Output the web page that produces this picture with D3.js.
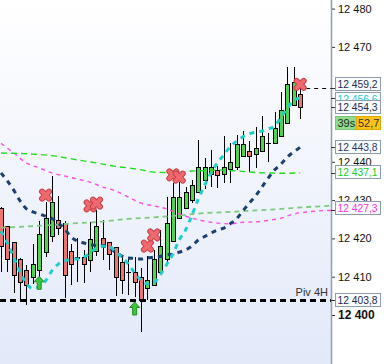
<!DOCTYPE html>
<html>
<head>
<meta charset="utf-8">
<script src="https://cdn.jsdelivr.net/npm/d3@7"></script>
<style>
  body { margin: 0; background: #fff; }
  svg { display: block; font-family: "Liberation Sans", Arial, sans-serif; }
</style>
</head>
<body>
<div id="chart"></div>
<script>
// candles, one per bar (index 0 = leftmost)
const opens  = [12427.9, 12423.0, 12418.8, 12414.6, 12411.7, 12409.7, 12411.5, 12416.2, 12420.4, 12424.8,
                12423.8, 12416.7, 12414.9, 12415.1, 12414.1, 12416.7, 12420.1, 12418.8, 12417.5, 12413.6,
                12411.2, 12411.2, 12409.9, 12406.8, 12407.8, 12411.2, 12414.6, 12419.1, 12425.1, 12427.9,
                12430.0, 12431.9, 12435.2, 12436.8, 12437.6, 12436.8, 12437.9, 12438.6, 12441.3, 12442.8,
                12442.0, 12442.8, 12444.9, 12444.9, 12446.5, 12450.1, 12454.8, 12457.7];
const highs  = [12428.2, 12423.2, 12419.0, 12414.8, 12413.1, 12418.5, 12424.5, 12429.5, 12436.3, 12431.1,
                12424.5, 12418.5, 12420.1, 12417.0, 12424.3, 12427.4, 12424.8, 12419.1, 12417.7, 12415.7,
                12415.1, 12415.1, 12412.3, 12415.4, 12417.0, 12422.2, 12430.8, 12434.5, 12434.7, 12433.4,
                12435.2, 12445.7, 12441.0, 12443.1, 12438.9, 12446.7, 12444.9, 12447.0, 12448.0, 12445.4,
                12449.1, 12452.0, 12447.5, 12453.0, 12458.2, 12464.8, 12464.8, 12459.5];
const lows   = [12411.2, 12411.2, 12405.7, 12403.7, 12402.6, 12408.1, 12409.4, 12415.1, 12419.1, 12420.9,
                12404.4, 12407.8, 12408.6, 12408.4, 12411.2, 12415.4, 12414.4, 12411.7, 12405.0, 12405.5,
                12405.2, 12404.7, 12395.6, 12403.9, 12407.7, 12411.1, 12413.6, 12419.0, 12425.0, 12427.8,
                12429.2, 12431.8, 12432.9, 12433.4, 12433.2, 12434.5, 12434.5, 12437.9, 12441.2, 12437.3,
                12438.4, 12442.7, 12439.9, 12444.8, 12446.4, 12450.0, 12454.7, 12451.2];
const closes = [12417.8, 12414.6, 12410.2, 12408.6, 12407.6, 12413.1, 12420.9, 12425.1, 12429.5, 12422.5,
                12410.2, 12413.3, 12414.9, 12413.3, 12419.8, 12423.0, 12418.3, 12415.7, 12409.9, 12409.1,
                12411.2, 12408.6, 12403.7, 12408.9, 12414.6, 12417.8, 12424.0, 12430.8, 12430.8, 12431.9,
                12433.9, 12438.4, 12438.4, 12438.4, 12436.3, 12438.6, 12439.7, 12444.4, 12444.6, 12441.5,
                12443.6, 12446.7, 12444.9, 12448.6, 12453.5, 12460.1, 12460.6, 12454.3];

// moving averages, one value per bar
const navyMA = [12437.1, 12435.0, 12432.6, 12429.8, 12427.7, 12426.9, 12426.4, 12425.8, 12425.2, 12424.0,
                12422.5, 12420.4, 12419.3, 12418.8, 12418.4, 12418.1, 12418.0, 12417.5, 12416.4, 12415.4,
                12414.9, 12414.8, 12414.6, 12414.9, 12415.1, 12415.3, 12415.7, 12415.9, 12416.4, 12417.0,
                12418.0, 12419.6, 12420.5, 12421.4, 12422.2, 12422.7, 12423.8, 12425.1, 12427.2, 12429.2,
                12431.1, 12433.4, 12435.8, 12437.9, 12439.4, 12441.3, 12442.6, 12443.8];
const cyanMA = [12421.9, 12418.8, 12415.1, 12411.2, 12408.1, 12407.0, 12407.3, 12408.9, 12411.5, 12413.3,
                12414.1, 12414.5, 12414.6, 12415.1, 12416.2, 12417.5, 12418.0, 12418.0, 12416.4, 12415.1,
                12413.3, 12411.0, 12409.1, 12408.1, 12408.4, 12410.4, 12413.1, 12415.9, 12419.6, 12422.2,
                12426.1, 12430.3, 12433.9, 12437.1, 12439.7, 12441.8, 12443.9, 12445.4, 12446.5, 12447.3,
                12447.8, 12448.0, 12448.6, 12449.3, 12451.7, 12454.0, 12456.1, 12456.6];

// slower averages, read at [bar index, value]
const greenMA = [[0, 12442.3], [5, 12442.0], [8, 12441.6], [10, 12441.1], [12, 12440.5], [15, 12439.7],
                 [18, 12438.8], [20, 12438.4], [22, 12437.9], [24, 12437.3], [26, 12437.2], [28, 12437.2],
                 [30, 12437.6], [32, 12437.7], [34, 12437.9], [36, 12437.7], [38, 12437.5], [40, 12437.2],
                 [42, 12437.1], [44, 12437.0], [47, 12437.1]];
const magentaMA = [[0, 12444.8], [2, 12442.3], [4, 12439.7], [6, 12438.4], [8, 12437.1], [10, 12436.3],
                   [12, 12435.5], [14, 12434.7], [16, 12433.4], [18, 12432.4], [20, 12430.8], [22, 12429.2],
                   [24, 12428.5], [26, 12427.7], [28, 12426.4], [30, 12425.3], [32, 12424.5], [34, 12424.0],
                   [36, 12423.8], [38, 12424.2], [40, 12424.3], [42, 12424.7], [44, 12425.3], [46, 12426.4],
                   [48, 12426.9], [50, 12427.2], [52, 12427.3]];
const lightGreenMA = [[0, 12422.8], [4, 12423.1], [8, 12423.5], [12, 12424.0], [16, 12424.4], [20, 12425.1],
                      [24, 12425.5], [28, 12426.0], [32, 12426.6], [36, 12426.9], [40, 12427.3], [44, 12427.7],
                      [48, 12428.2], [52, 12428.5]];

// signals
const crossBars = [7, 14, 15, 23, 24, 27, 28, 47];
const crossPrices = [12431.3, 12428.5, 12429.2, 12418.0, 12420.9, 12436.6, 12436.0, 12460.2];
const arrowBars = [6, 21];
const arrowPrices = [12408.4, 12401.7];

const pivotPrice = 12403.8;
const pivotLabel = "Piv 4H";
const lastMarkPrice = 12459.2;

// 12450 and 12460 sit under the value boxes, so only these are visible
const yTicks = [12400, 12410, 12420, 12430, 12440, 12470, 12480];

// price boxes on the axis (drawn in this order, later ones on top)
const boxPrices = [12459.2, 12456.6, 12454.3, 12443.8, 12437.1, 12427.3, 12403.8];
const boxColors = ["#1c2a48", "#22c8c8", "#1c2a48", "#1e3a68", "#22cc22", "#ff33dd", "#1c2a48"];
const boxShift = [-4, 1, 0, 0, -1, -2, 0]; // pushed apart so they do not stack exactly
const timerText = "39s";
const spreadText = "52,7";

const W = 384, H = 364, plotW = 331;

const svg = d3.select("#chart").append("svg")
  .attr("width", W).attr("height", H);

const defs = svg.append("defs");
const grad = defs.append("linearGradient").attr("id", "bg")
  .attr("x1", 0).attr("y1", 0).attr("x2", 0).attr("y2", 1);
grad.append("stop").attr("offset", "0%").attr("stop-color", "#ffffff");
grad.append("stop").attr("offset", "100%").attr("stop-color", "#e2e9f9");
defs.append("clipPath").attr("id", "plot")
  .append("rect").attr("width", plotW).attr("height", H);

svg.append("rect").attr("width", W).attr("height", H).attr("fill", "#fff");
svg.append("rect").attr("width", plotW).attr("height", H).attr("fill", "url(#bg)");

const x = d3.scaleLinear().domain([0, 52]).range([1, 332]);
const y = d3.scaleLinear().domain([12400, 12480]).range([315, 8.6]);

const plot = svg.append("g").attr("clip-path", "url(#plot)");

// candles
const bars = d3.range(opens.length).map(i => ({
  i, o: opens[i], h: highs[i], l: lows[i], c: closes[i]
}));
const cg = plot.append("g").attr("shape-rendering", "crispEdges");
cg.selectAll(".wick").data(bars).enter().append("line")
  .attr("x1", d => Math.round(x(d.i)) + 0.5).attr("x2", d => Math.round(x(d.i)) + 0.5)
  .attr("y1", d => y(d.h)).attr("y2", d => y(d.l))
  .attr("stroke", "#000").attr("stroke-width", 1);
cg.selectAll(".body").data(bars).enter().append("rect")
  .attr("x", d => Math.round(x(d.i)) - 1.5)
  .attr("width", 4)
  .attr("y", d => y(Math.max(d.o, d.c)))
  .attr("height", d => Math.max(0.01, Math.abs(y(d.o) - y(d.c))))
  .attr("fill", d => d.c > d.o ? "#4cd64c" : (d.c < d.o ? "#ef7471" : "none"))
  .attr("stroke", "#000").attr("stroke-width", 1);
// doji crosses
cg.selectAll(".doji").data(bars.filter(d => d.o === d.c)).enter().append("line")
  .attr("x1", d => Math.round(x(d.i)) - 2).attr("x2", d => Math.round(x(d.i)) + 3)
  .attr("y1", d => Math.round(y(d.o)) + 0.5).attr("y2", d => Math.round(y(d.o)) + 0.5)
  .attr("stroke", "#000");

// averages
const lineIdx = d3.line().x((d, i) => x(i)).y(d => y(d)).curve(d3.curveMonotoneX);
const linePair = d3.line().x(d => x(d[0])).y(d => y(d[1])).curve(d3.curveMonotoneX);

plot.append("path").datum(lightGreenMA).attr("d", linePair)
  .attr("fill", "none").attr("stroke", "#7ccb7c").attr("stroke-width", 1.8)
  .attr("stroke-dasharray", "5,4");
plot.append("path").datum(magentaMA).attr("d", linePair)
  .attr("fill", "none").attr("stroke", "#ff4be8").attr("stroke-width", 1.4)
  .attr("stroke-dasharray", "4,4");
plot.append("path").datum(greenMA).attr("d", linePair)
  .attr("fill", "none").attr("stroke", "#1fdc1f").attr("stroke-width", 1.4)
  .attr("stroke-dasharray", "6,4");
plot.append("path").datum(navyMA).attr("d", lineIdx)
  .attr("fill", "none").attr("stroke", "#1b4070").attr("stroke-width", 3)
  .attr("stroke-dasharray", "5,5");
plot.append("path").datum(cyanMA).attr("d", lineIdx)
  .attr("fill", "none").attr("stroke", "#1fcfcf").attr("stroke-width", 3)
  .attr("stroke-dasharray", "5,5");

// pivot line + last mark line
plot.append("line")
  .attr("x1", 0).attr("x2", plotW)
  .attr("y1", Math.round(y(pivotPrice)) + 0.5).attr("y2", Math.round(y(pivotPrice)) + 0.5)
  .attr("stroke", "#000").attr("stroke-width", 3).attr("stroke-dasharray", "6,4");
plot.append("text")
  .attr("x", 328).attr("y", y(pivotPrice) - 4)
  .attr("text-anchor", "end").attr("font-size", 11).attr("fill", "#333")
  .text(pivotLabel);
plot.append("line")
  .attr("x1", x(opens.length - 1) - 2).attr("x2", plotW)
  .attr("y1", Math.round(y(lastMarkPrice)) + 0.5).attr("y2", Math.round(y(lastMarkPrice)) + 0.5)
  .attr("stroke", "#000").attr("stroke-width", 1).attr("stroke-dasharray", "4,4");

// red crosses
const crosses = plot.selectAll(".cross").data(crossBars.map((b, k) => ({ b, p: crossPrices[k] })))
  .enter().append("g")
  .attr("transform", d => `translate(${x(d.b)},${y(d.p)})`);
const xPath = "M-3.5,-3.5L3.5,3.5M3.5,-3.5L-3.5,3.5";
crosses.append("path").attr("d", xPath)
  .attr("stroke", "#c8404a").attr("stroke-width", 6).attr("stroke-linecap", "round");
crosses.append("path").attr("d", xPath)
  .attr("stroke", "#ef6a6e").attr("stroke-width", 4).attr("stroke-linecap", "round");

// green arrows
const arrowPath = "M0,-6.5L5,-1L2,-1L2,6.5L-2,6.5L-2,-1L-5,-1Z";
plot.selectAll(".arrow").data(arrowBars.map((b, k) => ({ b, p: arrowPrices[k] })))
  .enter().append("path")
  .attr("transform", d => `translate(${x(d.b)},${y(d.p)})`)
  .attr("d", arrowPath)
  .attr("fill", "#3cc83c").attr("stroke", "#1f8f1f").attr("stroke-width", 1);

// price axis
const fmt = d3.formatLocale({ decimal: ",", thousands: "\u00a0", grouping: [3], currency: ["", ""] });
const tickFmt = fmt.format(",");
const valFmt = fmt.format(",.1f");

const axis = svg.append("g").attr("transform", `translate(${plotW},0)`);
axis.call(d3.axisRight(y).tickValues(yTicks).tickSize(4).tickPadding(3).tickFormat(tickFmt));
axis.select(".domain").remove();
axis.selectAll(".tick line").attr("stroke", "#333");
axis.selectAll(".tick text")
  .attr("font-family", "'Liberation Sans', Arial, sans-serif")
  .attr("fill", "#111")
  .attr("font-weight", d => d === 12400 ? "bold" : null)
  .attr("font-size", d => d === 12400 ? 12 : 11);

svg.append("line").attr("x1", plotW + 0.5).attr("x2", plotW + 0.5)
  .attr("y1", 0).attr("y2", H).attr("stroke", "#8d9fb0").attr("stroke-width", 1.5);

// value boxes
const boxes = svg.append("g");
boxPrices.forEach((p, k) => {
  const vy = Math.round(y(p));
  const cy = vy + boxShift[k];
  boxes.append("line").attr("x1", plotW).attr("x2", plotW + 5)
    .attr("y1", vy + 0.5).attr("y2", vy + 0.5).attr("stroke", "#333");
  boxes.append("rect")
    .attr("x", 335.5).attr("y", cy - 6.5).attr("width", 45).attr("height", 13)
    .attr("fill", "#fbfcfe").attr("stroke", "#8c9cab");
  boxes.append("text")
    .attr("x", 337.5).attr("y", cy + 4)
    .attr("font-size", 11).attr("textLength", 40).attr("lengthAdjust", "spacingAndGlyphs")
    .attr("fill", boxColors[k])
    .text(valFmt(p));
});

// timer + spread box
const ty = Math.round(y(12450.2));
boxes.append("rect").attr("x", 335.5).attr("y", ty - 6.5).attr("width", 21).attr("height", 13)
  .attr("fill", "#8fdc8f").attr("stroke", "#7cc47c");
boxes.append("text").attr("x", 337.5).attr("y", ty + 4)
  .attr("font-size", 11).attr("fill", "#1a2a1a").text(timerText);
boxes.append("rect").attr("x", 356.5).attr("y", ty - 6.5).attr("width", 24).attr("height", 13)
  .attr("fill", "#ffc21a").attr("stroke", "#e0a800");
boxes.append("text").attr("x", 358).attr("y", ty + 4)
  .attr("font-size", 11).attr("fill", "#333").text(spreadText);
</script>
</body>
</html>
